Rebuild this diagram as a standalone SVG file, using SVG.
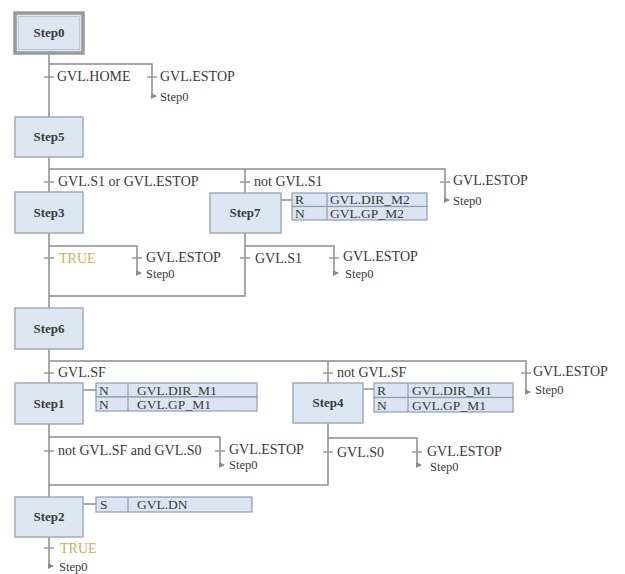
<svg xmlns="http://www.w3.org/2000/svg" width="625" height="574" viewBox="0 0 625 574">
<style>
.step{fill:#dde6f3;stroke:#a3aab5;stroke-width:1.5}
.init{fill:#dde6f3;stroke:#9a9a9a;stroke-width:3.5}
.sname{font-family:"Liberation Serif",serif;font-size:13px;font-weight:bold;fill:#3a3a3a;text-anchor:middle}
.ln{fill:none;stroke:#8c8c8c;stroke-width:1.5}
.tick{stroke:#9a9a9a;stroke-width:1.5}
.t{font-family:"Liberation Serif",serif;font-size:14px;fill:#3a3a3a}
.j{font-family:"Liberation Serif",serif;font-size:12.5px;fill:#3a3a3a}
.true{font-family:"Liberation Serif",serif;font-size:14px;fill:#d2ad5c}
.act{fill:#dbe4f2;stroke:#8e9bb0;stroke-width:1.2}
.a{font-family:"Liberation Serif",serif;font-size:13.5px;fill:#3a3a3a}
</style>
<defs>
<marker id="jmp" viewBox="0 0 6 6" refX="5" refY="3" markerWidth="6" markerHeight="6" orient="auto" markerUnits="userSpaceOnUse">
<path d="M0,0 L6,3 L0,6 z" fill="#8c8c8c"/>
</marker>
</defs>
<rect width="625" height="574" fill="#ffffff"/>

<g id="connectors">
<!-- Step0 -> Step5 -->
<path class="ln" d="M49,53 V117"/>
<path class="ln" d="M49,64 H152 V96 h4" marker-end="url(#jmp)"/>
<line class="tick" x1="44" y1="77" x2="54" y2="77"/>
<line class="tick" x1="147" y1="77" x2="157" y2="77"/>
<!-- Step5 -> Step3 / Step7 -->
<path class="ln" d="M49,157 V192"/>
<path class="ln" d="M49,169 H445 V200 h4" marker-end="url(#jmp)"/>
<path class="ln" d="M245,169 V193"/>
<line class="tick" x1="44" y1="182" x2="54" y2="182"/>
<line class="tick" x1="240" y1="182" x2="250" y2="182"/>
<line class="tick" x1="440" y1="182" x2="450" y2="182"/>
<!-- Step3 -> Step6 -->
<path class="ln" d="M49,233 V308"/>
<path class="ln" d="M49,246 H137 V273 h4" marker-end="url(#jmp)"/>
<line class="tick" x1="44" y1="258" x2="54" y2="258"/>
<line class="tick" x1="132" y1="258" x2="142" y2="258"/>
<!-- Step7 -> Step6 -->
<path class="ln" d="M245,233 V296 H49"/>
<path class="ln" d="M245,246 H334 V273 h4" marker-end="url(#jmp)"/>
<line class="tick" x1="240" y1="258" x2="250" y2="258"/>
<line class="tick" x1="329" y1="258" x2="339" y2="258"/>
<!-- Step7 actions link -->
<path class="ln" d="M281,200 H292"/>
<!-- Step6 -> Step1 / Step4 -->
<path class="ln" d="M49,349 V383"/>
<path class="ln" d="M49,361 H526 V392 h4" marker-end="url(#jmp)"/>
<path class="ln" d="M328,361 V383"/>
<line class="tick" x1="44" y1="373" x2="54" y2="373"/>
<line class="tick" x1="323" y1="373" x2="333" y2="373"/>
<line class="tick" x1="521" y1="373" x2="531" y2="373"/>
<!-- action links -->
<path class="ln" d="M83,390 H96"/>
<path class="ln" d="M363,389 H374"/>
<!-- Step1 -> Step2 -->
<path class="ln" d="M49,424 V497"/>
<path class="ln" d="M49,437 H220 V465 h4" marker-end="url(#jmp)"/>
<line class="tick" x1="44" y1="451" x2="54" y2="451"/>
<line class="tick" x1="215" y1="451" x2="225" y2="451"/>
<!-- Step4 -> Step2 -->
<path class="ln" d="M328,423 V485 H49"/>
<path class="ln" d="M328,438 H417 V465 h4" marker-end="url(#jmp)"/>
<line class="tick" x1="323" y1="452" x2="333" y2="452"/>
<line class="tick" x1="412" y1="452" x2="422" y2="452"/>
<!-- Step2 actions link -->
<path class="ln" d="M83,504 H96"/>
<!-- Step2 -> Step0 -->
<path class="ln" d="M49,537 V566 h4" marker-end="url(#jmp)"/>
<line class="tick" x1="44" y1="548" x2="54" y2="548"/>
</g>

<g id="labels">
<text class="t" x="57" y="81">GVL.HOME</text>
<text class="t" x="160" y="81">GVL.ESTOP</text>
<text class="j" x="160" y="101">Step0</text>
<text class="t" x="58" y="186">GVL.S1 or GVL.ESTOP</text>
<text class="t" x="254" y="186">not GVL.S1</text>
<text class="t" x="453" y="185">GVL.ESTOP</text>
<text class="j" x="453" y="205">Step0</text>
<text class="true" x="59" y="263">TRUE</text>
<text class="t" x="146" y="262">GVL.ESTOP</text>
<text class="j" x="146" y="278">Step0</text>
<text class="t" x="255" y="263">GVL.S1</text>
<text class="t" x="343" y="261">GVL.ESTOP</text>
<text class="j" x="345" y="278">Step0</text>
<text class="t" x="58" y="377">GVL.SF</text>
<text class="t" x="337" y="377">not GVL.SF</text>
<text class="t" x="533" y="376">GVL.ESTOP</text>
<text class="j" x="535" y="394">Step0</text>
<text class="t" x="58" y="455">not GVL.SF and GVL.S0</text>
<text class="t" x="229" y="454">GVL.ESTOP</text>
<text class="j" x="229" y="469">Step0</text>
<text class="t" x="337" y="457">GVL.S0</text>
<text class="t" x="427" y="456">GVL.ESTOP</text>
<text class="j" x="430" y="471">Step0</text>
<text class="true" x="60" y="553">TRUE</text>
<text class="j" x="59" y="571">Step0</text>
</g>

<g id="Step0"><rect class="init" x="15" y="13" width="68" height="40"/><rect x="18.5" y="16.5" width="61" height="33" fill="none" stroke="#c2c6cc" stroke-width="1"/><text class="sname" x="49" y="37">Step0</text></g>
<g id="Step5"><rect class="step" x="15" y="117" width="68" height="40"/><text class="sname" x="49" y="141">Step5</text></g>
<g id="Step3"><rect class="step" x="15" y="192" width="68" height="41"/><text class="sname" x="49" y="217">Step3</text></g>
<g id="Step7"><rect class="step" x="210" y="193" width="71" height="40"/><text class="sname" x="245" y="217">Step7</text></g>
<g id="Step6"><rect class="step" x="15" y="308" width="68" height="41"/><text class="sname" x="49" y="333">Step6</text></g>
<g id="Step1"><rect class="step" x="15" y="383" width="68" height="41"/><text class="sname" x="49" y="408">Step1</text></g>
<g id="Step4"><rect class="step" x="293" y="383" width="70" height="40"/><text class="sname" x="328" y="407">Step4</text></g>
<g id="Step2"><rect class="step" x="15" y="497" width="68" height="40"/><text class="sname" x="49" y="521">Step2</text></g>

<g id="Step7_actions">
<rect class="act" x="292" y="193" width="135" height="13.5"/>
<rect class="act" x="292" y="206.5" width="135" height="13.5"/>
<line x1="327" y1="193" x2="327" y2="220" stroke="#8e9bb0" stroke-width="1.2"/>
<text class="a" x="295" y="204">R</text><text class="a" x="330" y="204">GVL.DIR_M2</text>
<text class="a" x="295" y="218">N</text><text class="a" x="330" y="218">GVL.GP_M2</text>
</g>
<g id="Step1_actions">
<rect class="act" x="96" y="383" width="161" height="14"/>
<rect class="act" x="96" y="397" width="161" height="14"/>
<line x1="128" y1="383" x2="128" y2="411" stroke="#8e9bb0" stroke-width="1.2"/>
<text class="a" x="99" y="395">N</text><text class="a" x="137" y="395">GVL.DIR_M1</text>
<text class="a" x="99" y="409">N</text><text class="a" x="137" y="409">GVL.GP_M1</text>
</g>
<g id="Step4_actions">
<rect class="act" x="374" y="383" width="139" height="14.5"/>
<rect class="act" x="374" y="397.5" width="139" height="14.5"/>
<line x1="408" y1="383" x2="408" y2="412" stroke="#8e9bb0" stroke-width="1.2"/>
<text class="a" x="377" y="395">R</text><text class="a" x="412" y="395">GVL.DIR_M1</text>
<text class="a" x="377" y="410">N</text><text class="a" x="412" y="410">GVL.GP_M1</text>
</g>
<g id="Step2_actions">
<rect class="act" x="96" y="497" width="156" height="15"/>
<line x1="128" y1="497" x2="128" y2="512" stroke="#8e9bb0" stroke-width="1.2"/>
<text class="a" x="100" y="509">S</text><text class="a" x="137" y="509">GVL.DN</text>
</g>
</svg>
